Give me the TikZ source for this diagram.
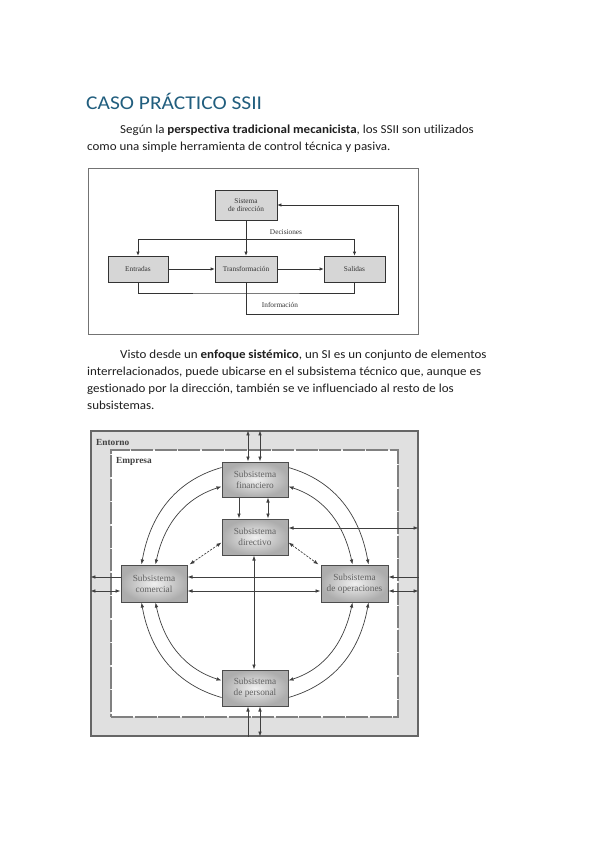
\documentclass[tikz,border=0pt]{standalone}
\usepackage{fontspec}
\setmainfont{Carlito}[FakeStretch=1.065,Ligatures=NoCommon]
\newfontfamily\titlefont{Carlito}[FakeStretch=1.1,Ligatures=NoCommon]
\newfontfamily\diagfont{Liberation Serif}
\usetikzlibrary{arrows.meta,calc}
\definecolor{titleblue}{HTML}{215E7E}
\definecolor{lineg}{HTML}{404040}
\begin{document}
\begin{tikzpicture}[x=1pt,y=1pt,
  body/.style={anchor=base west,inner sep=0pt,font=\fontsize{12.2}{14}\selectfont,text=black!88},
  onebox/.style={draw=black!80,fill=black!16,line width=0.6pt,inner sep=1pt,align=center,
     font=\diagfont\fontsize{7.3}{8.2}\selectfont,text=black!80},
  onelbl/.style={inner sep=0pt,font=\diagfont\fontsize{7.3}{8.2}\selectfont,text=black!80},
  onearrow/.style={line width=0.6pt,draw=black!80,-{Latex[length=4pt,width=3.2pt]}},
  oneline/.style={line width=0.6pt,draw=black!80},
  twobox/.style={draw=black!70,line width=1pt,inner color=black!6,outer color=black!32,
     minimum width=66pt,minimum height=36pt,align=center,inner sep=1pt,
     font=\diagfont\fontsize{9.3}{10.8}\selectfont,text=black!62},
  twolbl/.style={anchor=west,inner sep=0pt,font=\diagfont\bfseries\fontsize{9.3}{10.8}\selectfont,text=black!75},
  conn/.style={line width=0.7pt,draw=lineg,>={Latex[length=5pt,width=3.6pt]}},
  dconn/.style={conn,dash pattern=on 2.2pt off 1.3pt}
]
\useasboundingbox[fill=white] (0,0) rectangle (599,-848);

% ---------- texts ----------
\node[anchor=base west,inner sep=0pt,font=\titlefont\fontsize{19.5}{22}\selectfont,text=titleblue] (title) at (86,-109.5) {CASO PRÁCTICO SSII};
\node[body] (p1a) at (120,-134) {Según la \textbf{perspectiva tradicional mecanicista}, los SSII son utilizados};
\node[body] (p1b) at (87,-150.5) {como una simple herramienta de control técnica y pasiva.};
\node[body] (p2a) at (120,-358) {Visto desde un \textbf{enfoque sistémico}, un SI es un conjunto de elementos};
\node[body] (p2b) at (87,-375) {interrelacionados, puede ubicarse en el subsistema técnico que, aunque es};
\node[body] (p2c) at (87,-392) {gestionado por la dirección, también se ve influenciado al resto de los};
\node[body] (p2d) at (87,-409) {subsistemas.};

% ---------- diagram 1 ----------
\node[draw=black!55,line width=0.8pt,fill=white,minimum width=330pt,minimum height=166pt,inner sep=0pt] (frame1) at (253,-251) {};
\node[onebox,minimum width=62pt,minimum height=30pt] (sd) at (246,-205) {Sistema\\de dirección};
\node[onebox,minimum width=60pt,minimum height=26pt] (en) at (138,-269) {Entradas};
\node[onebox,minimum width=62pt,minimum height=26pt] (tr) at (246,-269) {Transformación};
\node[onebox,minimum width=61pt,minimum height=26pt] (sa) at (354.5,-269) {Salidas};
\coordinate (dec) at (246,-239);
\coordinate (inf) at (246,-293);
\coordinate (fb) at (398,-314);
\draw[onearrow] (sd) -- (tr);
\draw[onearrow] (dec) -| (en.north);
\draw[onearrow] (dec) -| (sa.north);
\draw[onearrow] (en) -- (tr);
\draw[onearrow] (tr) -- (sa);
\draw[oneline] (en.south) |- (inf) -| (sa.south);
\draw[onearrow] (tr.south) |- (fb) |- (sd.east);
\node[onelbl] (declbl) at (286,-232) {Decisiones};
\node[onelbl] (inflbl) at (280,-304.5) {Información};

% ---------- diagram 2 ----------
\node[draw=black!60,line width=1.2pt,fill=black!12,minimum width=327pt,minimum height=305pt,inner sep=0pt] (ento) at (254.5,-583.5) {};
\node[draw=black!50,line width=1.3pt,fill=white,dash pattern=on 22pt off 1.5pt,minimum width=287pt,minimum height=267pt,inner sep=0pt] (empr) at (254.5,-583.5) {};
\node[twolbl] (entlbl) at (96,-442) {Entorno};
\node[twolbl] (emplbl) at (116,-461) {Empresa};

\node[twobox,minimum height=35pt] (fin) at (255,-479.5) {Subsistema\\financiero};
\node[twobox] (dir) at (255,-537) {Subsistema\\directivo};
\node[twobox,minimum height=37pt] (com) at (154,-583.5) {Subsistema\\comercial};
\node[twobox,minimum width=67pt,minimum height=37pt] (ope) at (354.5,-583.5) {Subsistema\\de operaciones};
\node[twobox] (per) at (255,-688) {Subsistema\\de personal};

% top
\draw[conn,<->] ([xshift=-7pt]fin.north) -- ([xshift=-7pt]fin.north |- ento.north);
\draw[conn,<->] ([xshift=5pt]fin.north) -- ([xshift=5pt]fin.north |- ento.north);
% fin - dir
\draw[conn,->] ([xshift=-16pt]fin.south) -- ([xshift=-16pt]dir.north);
\draw[conn,<->] ([xshift=13pt]fin.south) -- ([xshift=13pt]dir.north);
% dir - right edge
\draw[conn,<->] ([yshift=9pt]dir.east) -- ([yshift=9pt]dir.east -| ento.east);
% dir diagonals
\draw[dconn,<->] ([yshift=13pt]dir.south west) -- ([xshift=2pt]com.north east);
\draw[dconn,<->] ([yshift=13pt]dir.south east) -- ([xshift=-2pt]ope.north west);
% dir - per
\draw[conn,<->] ([xshift=-1pt]dir.south) -- ([xshift=-1pt]per.north);
% com - ope
\draw[conn,->] ([yshift=6.5pt]ope.west) -- ([yshift=6.5pt]com.east);
\draw[conn,<->] ([yshift=-7.5pt]com.east) -- ([yshift=-7.5pt]ope.west);
% com - left edge
\draw[conn,->] ([yshift=6.5pt]com.west) -- ([yshift=6.5pt]com.west -| ento.west);
\draw[conn,<->] ([yshift=-7.5pt]com.west) -- ([yshift=-7.5pt]com.west -| ento.west);
% ope - right edge
\draw[conn,->] ([yshift=6.5pt]ope.east -| ento.east) -- ([yshift=6.5pt]ope.east);
\draw[conn,<->] ([yshift=-7.5pt]ope.east) -- ([yshift=-7.5pt]ope.east -| ento.east);
% per - bottom
\draw[conn,->] ([xshift=-7pt]per.south |- ento.south) -- ([xshift=-7pt]per.south);
\draw[conn,<->] ([xshift=5pt]per.south) -- ([xshift=5pt]per.south |- ento.south);
% arcs
\draw[conn,->] ([yshift=-6pt]fin.north west) to[out=196,in=80] ([xshift=21pt]com.north west);
\draw[conn,<->] ([yshift=-25pt]fin.north west) to[out=198,in=78] ([xshift=35pt]com.north west);
\draw[conn,->] ([yshift=-6pt]fin.north east) to[out=-16,in=100] ([xshift=-20pt]ope.north east);
\draw[conn,<->] ([yshift=-25pt]fin.north east) to[out=-18,in=102] ([xshift=-36pt]ope.north east);
\draw[conn,->] ([yshift=9pt]per.south west) to[out=164,in=-80] ([xshift=21pt]com.south west);
\draw[conn,<->] ([yshift=26pt]per.south west) to[out=162,in=-78] ([xshift=35pt]com.south west);
\draw[conn,->] ([yshift=9pt]per.south east) to[out=16,in=260] ([xshift=-20pt]ope.south east);
\draw[conn,<->] ([yshift=26pt]per.south east) to[out=18,in=258] ([xshift=-36pt]ope.south east);
\end{tikzpicture}
\end{document}
